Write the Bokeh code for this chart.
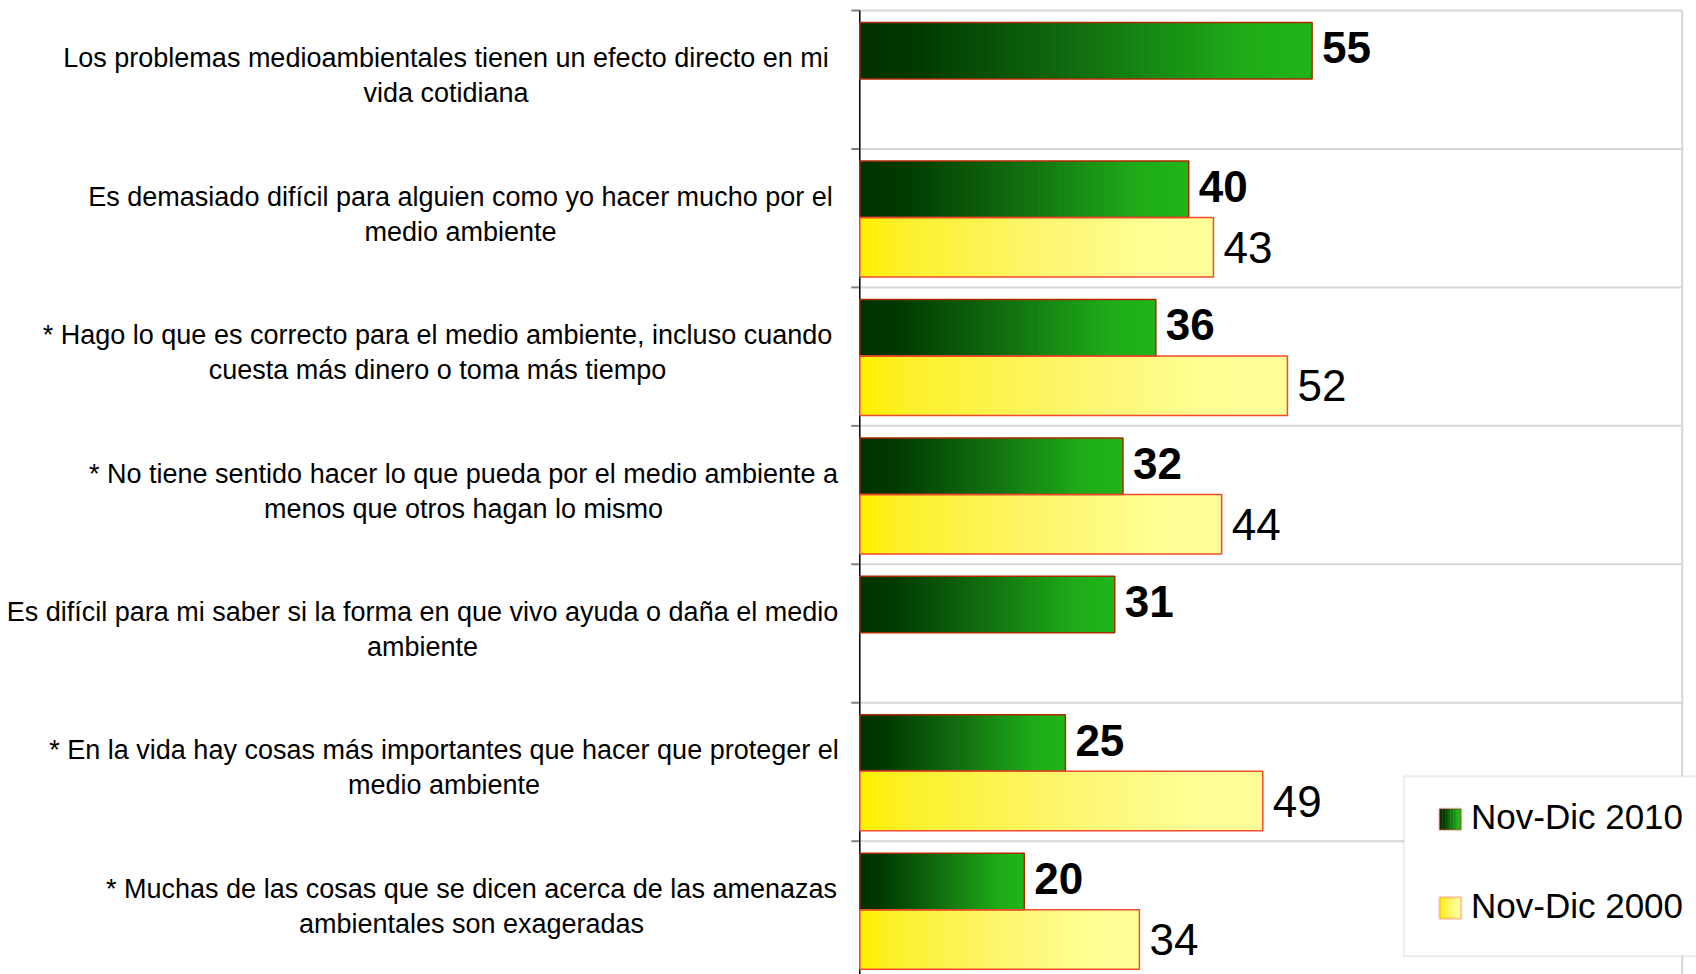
from bokeh.plotting import figure
from bokeh.models import Range1d, BoxAnnotation, Label, ColumnDataSource
from bokeh.core.properties import value
from bokeh.embed import file_html
from bokeh.resources import INLINE

# ---------------- data ----------------
categories = [
    "Los problemas medioambientales tienen un efecto directo en mi\nvida cotidiana",
    "Es demasiado difícil para alguien como yo hacer mucho por el\nmedio ambiente",
    "* Hago lo que es correcto para el medio ambiente, incluso cuando\ncuesta más dinero o toma más tiempo",
    "* No tiene sentido hacer lo que pueda por el medio ambiente a\nmenos que otros hagan lo mismo",
    "Es difícil para mi saber si la forma en que vivo ayuda o daña el medio\nambiente",
    "* En la vida hay cosas más importantes que hacer que proteger el\nmedio ambiente",
    "* Muchas de las cosas que se dicen acerca de las amenazas\nambientales son exageradas",
]
series_names = ["Nov-Dic 2010", "Nov-Dic 2000"]
values_2010 = [55, 40, 36, 32, 31, 25, 20]
values_2000 = [None, 43, 52, 44, None, 49, 34]

# ---------------- layout constants (pixels) ----------------
W, H = 1696, 974
AXIS_PX = 859.3        # x = 0
RIGHT_PX = 1681.7      # x = 100
TOP_PX = 10.0          # top category boundary
SLOT_PX = 138.45       # height of one category slot
X_MAX = 100
n = len(categories)
px_per_x = (RIGHT_PX - AXIS_PX) / X_MAX
y_top = n - 0.5


def px_x(px):
    return (px - AXIS_PX) / px_per_x


def px_y(py):
    return y_top - (py - TOP_PX) / SLOT_PX


label_center_px = [445.5, 460, 437, 463, 422, 443.5, 471]

green_stops = [(0.0, (0, 50, 0)), (0.12, (0, 58, 0)), (0.5, (18, 112, 16)),
               (0.85, (30, 172, 24)), (1.0, (33, 180, 26))]
yellow_stops = [(0.0, (255, 240, 0)), (0.1, (252, 240, 40)), (0.5, (253, 246, 110)),
                (0.85, (255, 255, 150)), (1.0, (255, 255, 153))]


def grad(stops, t):
    for (t0, c0), (t1, c1) in zip(stops[:-1], stops[1:]):
        if t <= t1:
            f = (t - t0) / (t1 - t0) if t1 > t0 else 0
            c = [int(round(a + (b - a) * f)) for a, b in zip(c0, c1)]
            return "#%02x%02x%02x" % tuple(c)
    return "#%02x%02x%02x" % stops[-1][1]


p = figure(width=W, height=H, output_backend="svg", toolbar_location=None,
           x_range=Range1d(px_x(0), px_x(W)), y_range=Range1d(px_y(H), px_y(0)),
           x_axis_location=None, y_axis_location=None,
           min_border=0, outline_line_color=None)
p.background_fill_color = "white"
p.border_fill_color = "white"
p.xgrid.visible = False
p.ygrid.visible = False

y_lo = px_y(H)
bounds = [k + 0.5 for k in range(-1, n)]

# category grid lines (boundaries), right border, y axis and ticks
p.segment(x0=[0] * len(bounds), y0=bounds, x1=[X_MAX] * len(bounds), y1=bounds,
          line_color="#d6d6d6", line_width=2)
p.segment(x0=[X_MAX], y0=[y_lo], x1=[X_MAX], y1=[y_top], line_color="#d6d6d6", line_width=2)
p.segment(x0=[px_x(AXIS_PX - 8.5)] * len(bounds), y0=bounds, x1=[0] * len(bounds), y1=bounds,
          line_color="#808080", line_width=2)
p.segment(x0=[0], y0=[y_lo], x1=[0], y1=[y_top], line_color="black", line_width=1.5)

centers = [n - 1 - k for k in range(n)]
G_OFF, G_H = 0.209, 0.408
Y_OFF, Y_H = -0.21, 0.43

N = 50
seg = dict(y=[], left=[], right=[], height=[], color=[])
out_g = dict(y=[], right=[])
out_y = dict(y=[], right=[])
lab_g = dict(x=[], y=[], text=[])
lab_y = dict(x=[], y=[], text=[])
for k in range(n):
    for vals, off, hh, stops, out, lab, dy in (
            (values_2010, G_OFF, G_H, green_stops, out_g, lab_g, 3 / SLOT_PX),
            (values_2000, Y_OFF, Y_H, yellow_stops, out_y, lab_y, 0)):
        v = vals[k]
        if v is None:
            continue
        yc = centers[k] + off
        for j in range(N):
            seg["y"].append(yc)
            seg["left"].append(v * j / N)
            seg["right"].append(min(v, v * (j + 1) / N + 0.12))
            seg["height"].append(hh)
            seg["color"].append(grad(stops, j / (N - 1)))
        out["y"].append(yc)
        out["right"].append(v)
        lab["x"].append(v)
        lab["y"].append(yc + dy)
        lab["text"].append(str(v))

p.hbar(y="y", left="left", right="right", height="height", fill_color="color",
       line_color=None, source=ColumnDataSource(seg))
p.hbar(y="y", left=0, right="right", height=G_H, fill_alpha=0, line_color="#b02a00",
       line_width=1.5, source=ColumnDataSource(out_g))
p.hbar(y="y", left=0, right="right", height=Y_H, fill_alpha=0, line_color="#f04a30",
       line_width=1.5, source=ColumnDataSource(out_y))

p.text(x="x", y="y", text="text", source=ColumnDataSource(lab_g), text_font=value("Liberation Sans"),
       text_font_size="44px", text_font_style="bold", text_baseline="middle", x_offset=10,
       text_color="black")
p.text(x="x", y="y", text="text", source=ColumnDataSource(lab_y), text_font=value("Liberation Sans"),
       text_font_size="44px", text_baseline="middle", x_offset=10, text_color="black")

# category labels (two centred lines each)
cat = dict(x=[], y=[], text=[])
for k, c in enumerate(categories):
    for line, o in zip(c.split("\n"), [21.5, -13.5]):
        cat["x"].append(px_x(label_center_px[k]))
        cat["y"].append(centers[k] + o / SLOT_PX)
        cat["text"].append(line)
p.text(x="x", y="y", text="text", source=ColumnDataSource(cat), text_font=value("Liberation Sans"),
       text_font_size="27px", text_align="center", text_baseline="middle", text_color="black")

# legend (drawn manually)
p.add_layout(BoxAnnotation(left=px_x(1403.3), right=px_x(1760), top=px_y(775.7), bottom=px_y(955.7),
                           fill_color="white", fill_alpha=1, line_color="#c0c0c0", line_width=2,
                           level="overlay"))
legend_rows = [(808.3, 829.3, 816.2, green_stops, "#c01800"),
               (896.7, 918.3, 904.6, yellow_stops, "#f04a30")]
for name, (t, b, mid, stops, lc) in zip(series_names, legend_rows):
    x0, x1 = 1439.0, 1460.7
    ns = 8
    for j in range(ns):
        a = x0 + (x1 - x0) * j / ns
        c = x0 + (x1 - x0) * (j + 1) / ns + 0.4
        p.add_layout(BoxAnnotation(left=px_x(a), right=px_x(min(c, x1)), top=px_y(t), bottom=px_y(b),
                                   fill_color=grad(stops, j / (ns - 1)), fill_alpha=1, line_color=None,
                                   level="overlay"))
    p.add_layout(BoxAnnotation(left=px_x(x0), right=px_x(x1), top=px_y(t), bottom=px_y(b),
                               fill_alpha=0, line_color=lc, line_width=2, level="overlay"))
    p.add_layout(Label(x=px_x(1470.5), y=px_y(mid), text=name, text_align="left",
                       text_baseline="middle", text_font="Liberation Sans",
                       text_font_size="35px", text_color="black", level="overlay"))

open("out.html", "w").write(file_html(p, INLINE))
